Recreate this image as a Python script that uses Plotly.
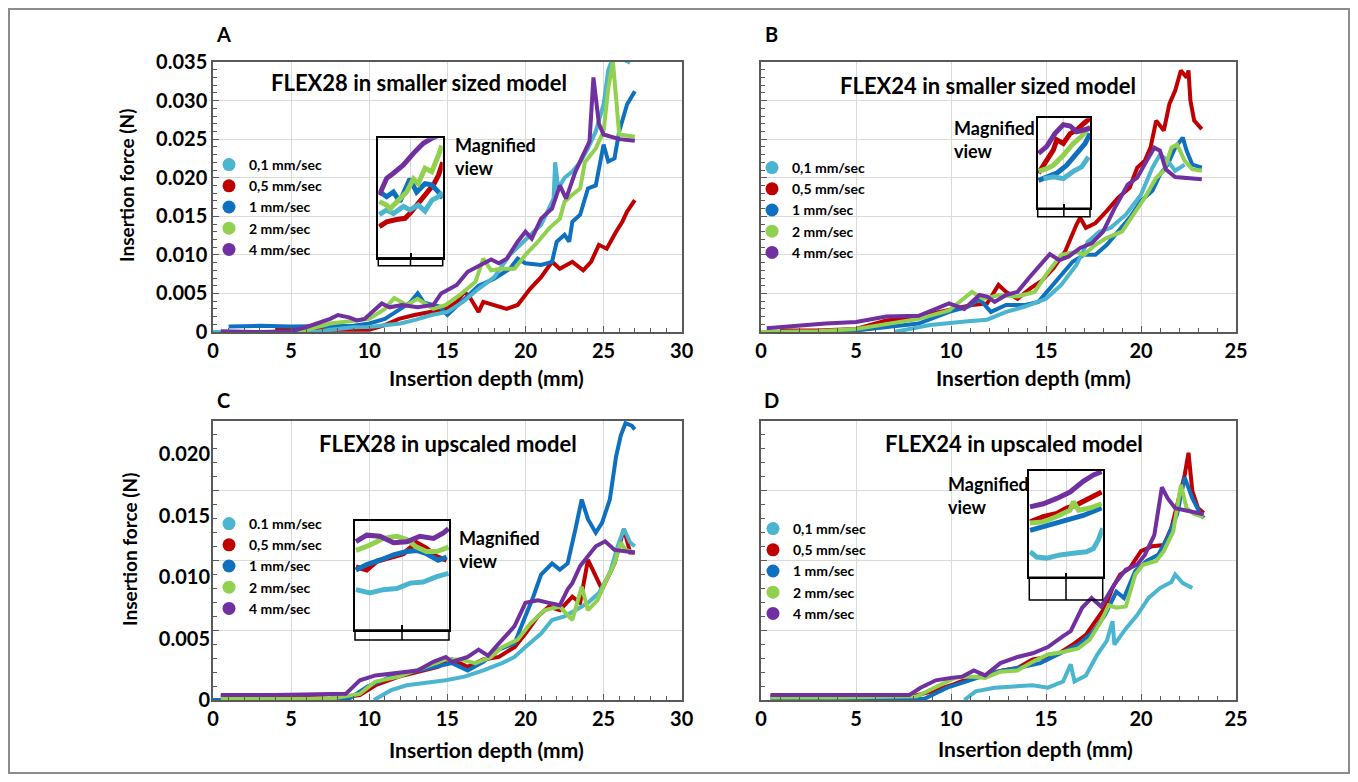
import plotly.graph_objects as go

# the page adds an 8 px body margin; the figure fills the rest of the 1358x782 window
PAGE_MARGIN = 8
W, H = 1358 - 2 * PAGE_MARGIN, 782 - 2 * PAGE_MARGIN
FONT = "Lato"

# ---------------- data ----------------
series_names = ["0,1 mm/sec", "0,5 mm/sec", "1 mm/sec", "2 mm/sec", "4 mm/sec"]
series_names_C = ["0.1 mm/sec", "0,5 mm/sec", "1 mm/sec", "2 mm/sec", "4 mm/sec"]
colors = ["#4BB5D0", "#C00000", "#1070C0", "#92D050", "#7030A0"]

panel_titles = ["FLEX28 in smaller sized model", "FLEX24 in smaller sized model",
                "FLEX28 in upscaled model", "FLEX24 in upscaled model"]
panel_letters = ["A", "B", "C", "D"]

A_yticks = [0, 0.005, 0.010, 0.015, 0.020, 0.025, 0.030, 0.035]
A_yticklabels = ["0", "0.005", "0.010", "0.015", "0.020", "0.025", "0.030", "0.035"]
C_yticks = [0, 0.005, 0.010, 0.015, 0.020]
C_yticklabels = ["0", "0.005", "0.010", "0.015", "0.020"]
AC_xticks = [0, 5, 10, 15, 20, 25, 30]
BD_xticks = [0, 5, 10, 15, 20, 25]

# Panel A
A_x_01 = [0, 3, 6.5, 7.5, 9, 10, 11, 12, 13, 14, 15, 16, 17, 18, 19, 20, 21, 21.8, 21.9, 22.1, 22.5, 23, 23.5, 24, 24.5, 25, 25.3, 25.6, 25.9, 26.4, 26.7]
A_y_01 = [0, 0, 0, 0.0003, 0.0006, 0.00065, 0.0009, 0.0011, 0.0016, 0.0022, 0.0026, 0.0039, 0.0056, 0.0071, 0.0100, 0.0120, 0.0139, 0.0173, 0.0220, 0.0186, 0.0200, 0.0208, 0.0220, 0.0238, 0.0260, 0.0295, 0.0340, 0.0355, 0.0375, 0.0352, 0.0349]
A_x_05 = [4, 6, 8, 10, 11, 11.9, 12.9, 13.9, 14.9, 15.6, 16.1, 16.5, 17, 17.3, 18, 18.8, 19.5, 20.3, 21, 21.7, 22.2, 23, 23.7, 24.2, 24.7, 25.2, 25.8, 26.2, 26.5, 27]
A_y_05 = [0.0003, 0.0003, 0.0003, 0.0003, 0.0009, 0.0017, 0.0022, 0.0026, 0.0030, 0.0039, 0.0052, 0.0043, 0.0026, 0.0039, 0.0035, 0.0030, 0.0035, 0.0056, 0.0071, 0.0091, 0.0082, 0.0091, 0.0080, 0.0091, 0.0113, 0.0108, 0.0130, 0.0143, 0.0156, 0.0171]
A_x_1 = [1.0, 3, 5, 7, 9, 10, 11, 12, 12.6, 13.1, 13.5, 14.5, 15, 16, 17, 18, 19, 19.5, 20, 21, 21.7, 22, 22.5, 22.8, 23, 23.5, 24, 24.5, 25, 25.3, 25.7, 26, 26.5, 27]
A_y_1 = [0.0007, 0.0008, 0.0007, 0.0007, 0.0008, 0.0011, 0.0017, 0.0030, 0.0038, 0.0050, 0.0038, 0.0033, 0.0022, 0.0041, 0.0060, 0.0069, 0.0082, 0.0095, 0.0089, 0.0087, 0.0091, 0.0117, 0.0126, 0.0117, 0.0143, 0.0152, 0.0186, 0.0190, 0.0243, 0.0221, 0.0225, 0.0260, 0.0295, 0.0312]
A_x_2 = [5.5, 7.5, 10, 11, 11.6, 12.4, 13.1, 14.1, 14.9, 15.8, 16.8, 17.3, 17.8, 18.5, 19.3, 20, 20.8, 21.5, 22.2, 22.5, 23, 23.5, 23.8, 24.5, 25, 25.3, 25.6, 25.8, 26, 27]
A_y_2 = [0, 0.0011, 0.0017, 0.0030, 0.0044, 0.0035, 0.0043, 0.0030, 0.0035, 0.0048, 0.0065, 0.0095, 0.0080, 0.0082, 0.0082, 0.0100, 0.0117, 0.0134, 0.0147, 0.0169, 0.0178, 0.0186, 0.0220, 0.0238, 0.0260, 0.0316, 0.0350, 0.0300, 0.0256, 0.0253]
A_x_4 = [0.5, 3, 5, 6, 7.5, 8, 8.7, 9.2, 9.7, 10.8, 11.3, 12.1, 13.1, 14.1, 14.6, 15.6, 16.3, 17.3, 17.8, 18.3, 18.8, 19.5, 20, 20.4, 21, 21.7, 22.2, 22.6, 23.2, 23.7, 24.1, 24.35, 24.5, 24.7, 25.0, 26, 27]
A_y_4 = [0.0001, 0.0, 0.0001, 0.00065, 0.0017, 0.0022, 0.0019, 0.0015, 0.0017, 0.0037, 0.0032, 0.0035, 0.0032, 0.0035, 0.0050, 0.0061, 0.0078, 0.0089, 0.0094, 0.0089, 0.0095, 0.0117, 0.0130, 0.0121, 0.0147, 0.0160, 0.0190, 0.0173, 0.0208, 0.0230, 0.0247, 0.0330, 0.0300, 0.0270, 0.0256, 0.0250, 0.0248]

# Panel B
B_x_01 = [7, 8.9, 10.9, 11.9, 12.9, 13.9, 15, 15.8, 16.6, 17.2, 17.8, 18.4, 19.2, 20, 20.6, 21, 21.4, 21.8, 22.3]
B_y_01 = [0, 0.0009, 0.0014, 0.0016, 0.0026, 0.0033, 0.0043, 0.0061, 0.0087, 0.0117, 0.0130, 0.0135, 0.0152, 0.0178, 0.0213, 0.0230, 0.0222, 0.0209, 0.0217]
B_x_05 = [1, 3, 5, 6.6, 8.3, 9.9, 11.1, 11.9, 12.5, 12.9, 13.5, 14.2, 14.8, 15.4, 16, 16.6, 16.8, 17.1, 17.6, 18.2, 18.8, 19.4, 19.8, 20.2, 20.5, 20.8, 21.2, 21.5, 21.8, 22.1, 22.4, 22.5, 22.6, 22.8, 23.2]
B_y_05 = [0.0002, 0.0002, 0.0004, 0.0015, 0.0020, 0.0028, 0.0035, 0.0037, 0.0061, 0.0052, 0.0043, 0.0057, 0.0067, 0.0083, 0.0104, 0.0139, 0.0148, 0.0135, 0.0141, 0.0157, 0.0174, 0.0187, 0.0213, 0.0222, 0.0239, 0.0274, 0.0261, 0.0296, 0.0313, 0.0339, 0.0330, 0.0339, 0.0300, 0.0274, 0.0263]
B_x_1 = [0, 3, 5, 8.3, 9.9, 10.9, 11.5, 12.1, 12.9, 13.9, 14.6, 15.2, 15.8, 16.4, 17, 17.6, 18.2, 18.8, 19.4, 20, 20.6, 21, 21.4, 21.8, 22.2, 22.4, 22.7, 23.2]
B_y_1 = [0, 0, 0.0002, 0.0011, 0.0026, 0.0033, 0.0043, 0.0026, 0.0035, 0.0035, 0.0039, 0.0057, 0.0074, 0.0091, 0.0100, 0.0100, 0.0113, 0.0130, 0.0148, 0.0170, 0.0183, 0.0204, 0.0217, 0.0239, 0.0252, 0.0235, 0.0217, 0.0213]
B_x_2 = [0, 3, 5, 8.3, 9.9, 11.1, 11.7, 12.5, 13.5, 14.4, 15, 15.8, 16.6, 17, 17.6, 18.2, 19, 19.6, 20.2, 20.8, 21.2, 21.6, 21.9, 22.3, 22.7, 23.2]
B_y_2 = [0, 0.0001, 0.0004, 0.0017, 0.0028, 0.0052, 0.0043, 0.0048, 0.0046, 0.0052, 0.0074, 0.0100, 0.0104, 0.0100, 0.0113, 0.0122, 0.0130, 0.0152, 0.0174, 0.0200, 0.0209, 0.0239, 0.0243, 0.0222, 0.0211, 0.0209]
B_x_4 = [0.3, 1.8, 3.4, 5, 6.6, 8.3, 9.9, 10.7, 11.5, 11.9, 12.3, 12.9, 13.5, 14.1, 14.8, 15.2, 15.7, 16.2, 16.8, 17.4, 18, 18.6, 19.3, 19.8, 20.3, 20.7, 21, 21.3, 21.8, 23.2]
B_y_4 = [0.0005, 0.0008, 0.0011, 0.0013, 0.0020, 0.0021, 0.0037, 0.0030, 0.0048, 0.0046, 0.0039, 0.0048, 0.0052, 0.0070, 0.0091, 0.0101, 0.0093, 0.0098, 0.0109, 0.0115, 0.0130, 0.0160, 0.0191, 0.0200, 0.0222, 0.0239, 0.0235, 0.0211, 0.0201, 0.0198]

# Panel C
C_x_01 = [10.3, 11.4, 12.4, 13.6, 14.9, 16.1, 17.3, 18.5, 19.3, 20, 21, 21.7, 22.5, 23.2, 24, 24.7, 25.4, 25.9, 26.3, 26.7, 27]
C_y_01 = [0, 0.0008, 0.0012, 0.0014, 0.0016, 0.0019, 0.0024, 0.0030, 0.0035, 0.0043, 0.0054, 0.0065, 0.0068, 0.0073, 0.0079, 0.0087, 0.0103, 0.0125, 0.0139, 0.0128, 0.0125]
C_x_05 = [0.5, 3, 5, 7.5, 9.4, 10.4, 11.9, 13.1, 14.4, 15.3, 16.3, 17.3, 18.3, 19.3, 20, 20.8, 21.5, 22.2, 23, 23.5, 24, 24.3, 24.9, 25.7, 26.3, 26.7, 27]
C_y_05 = [0.0003, 0.0003, 0.0002, 0.0001, 0.0004, 0.0012, 0.0019, 0.0023, 0.0027, 0.0033, 0.0027, 0.0033, 0.0035, 0.0043, 0.0054, 0.0068, 0.0076, 0.0073, 0.0084, 0.0079, 0.0114, 0.0106, 0.0090, 0.0111, 0.0139, 0.0120, 0.0120]
C_x_1 = [0, 4, 8, 8.7, 9.9, 11.4, 12.9, 14.4, 15.3, 16.3, 17.3, 18.3, 19.3, 19.8, 20.5, 21, 21.7, 22.2, 22.7, 23.2, 23.6, 24, 24.5, 24.9, 25.4, 25.8, 26.1, 26.4, 26.8, 27]
C_y_1 = [0, 0, 0, 0.0001, 0.0011, 0.0019, 0.0023, 0.0027, 0.0030, 0.0024, 0.0031, 0.0041, 0.0046, 0.0062, 0.0084, 0.0102, 0.0111, 0.0106, 0.0111, 0.0139, 0.0163, 0.0147, 0.0136, 0.0144, 0.0163, 0.0198, 0.0215, 0.0225, 0.0223, 0.0220]
C_x_2 = [0.5, 4, 7.5, 9.4, 10.4, 11.9, 13.6, 14.9, 15.8, 16.8, 17.8, 18.5, 19.5, 20.3, 21.2, 22.2, 23, 23.6, 24, 24.6, 25.2, 25.7, 26.1, 26.4, 27]
C_y_2 = [0.0001, 0.0001, 0.0001, 0.0005, 0.0015, 0.0019, 0.0027, 0.0033, 0.0033, 0.0030, 0.0035, 0.0043, 0.0049, 0.0062, 0.0073, 0.0076, 0.0065, 0.0092, 0.0073, 0.0081, 0.0098, 0.0111, 0.0128, 0.0122, 0.0120]
C_x_4 = [0.5, 4, 8.5, 9.4, 10.4, 11.9, 13.1, 14.1, 14.9, 15.3, 16.3, 17, 17.6, 18.3, 19.3, 20, 20.8, 21.5, 22.2, 22.7, 23, 23.5, 24, 24.5, 25.1, 25.7, 27]
C_y_4 = [0.0004, 0.0004, 0.0005, 0.0016, 0.0020, 0.0022, 0.0024, 0.0031, 0.0035, 0.0031, 0.0035, 0.0041, 0.0036, 0.0046, 0.0060, 0.0079, 0.0081, 0.0079, 0.0077, 0.0090, 0.0095, 0.0109, 0.0117, 0.0125, 0.0129, 0.0122, 0.0120]

# Panel D
D_x_01 = [10.7, 11.3, 12.3, 13.3, 14.3, 15.1, 15.9, 16.3, 16.5, 17.1, 17.7, 18.2, 18.5, 18.6, 19.2, 19.8, 20.4, 21, 21.6, 21.8, 22.2, 22.7]
D_y_01 = [0, 0.0007, 0.0010, 0.0011, 0.0012, 0.0010, 0.0015, 0.0029, 0.0015, 0.0020, 0.0037, 0.0048, 0.0064, 0.0045, 0.0058, 0.0069, 0.0083, 0.0091, 0.0096, 0.0102, 0.0095, 0.0091]
D_x_05 = [0.5, 4, 8, 9, 10, 11, 11.9, 12.7, 13.5, 14.3, 15.1, 15.7, 16.5, 17.1, 17.7, 18.1, 18.5, 18.9, 19.4, 20, 20.6, 21.2, 21.6, 22, 22.3, 22.5, 22.7, 23, 23.3]
D_y_05 = [0.0003, 0.0003, 0.0003, 0.0007, 0.0012, 0.0018, 0.0020, 0.0024, 0.0026, 0.0033, 0.0035, 0.0038, 0.0046, 0.0053, 0.0067, 0.0075, 0.0091, 0.0102, 0.0107, 0.0121, 0.0125, 0.0126, 0.0140, 0.0164, 0.0183, 0.0201, 0.0170, 0.0156, 0.0152]
D_x_1 = [0.5, 4, 8.6, 9.8, 11, 12.4, 13.5, 14.7, 15.9, 16.7, 17.5, 18.1, 18.7, 19.1, 19.7, 20.3, 20.9, 21.4, 21.9, 22.3, 22.7, 23.1, 23.3]
D_y_1 = [0.0001, 0.0001, 0.0001, 0.0010, 0.0016, 0.0023, 0.0026, 0.0030, 0.0039, 0.0045, 0.0056, 0.0069, 0.0088, 0.0083, 0.0105, 0.0113, 0.0118, 0.0132, 0.0151, 0.0181, 0.0164, 0.0152, 0.0148]
D_x_2 = [0.5, 4, 8.2, 9.4, 10.2, 11, 11.8, 12.6, 13.5, 14.3, 15.1, 15.9, 16.7, 17.3, 17.9, 18.3, 18.7, 19.2, 19.7, 20.1, 20.8, 21.2, 21.7, 22.1, 22.4, 22.8, 23.3]
D_y_2 = [0.0002, 0.0002, 0.0003, 0.0012, 0.0018, 0.0019, 0.0018, 0.0023, 0.0024, 0.0031, 0.0037, 0.0039, 0.0042, 0.0049, 0.0064, 0.0077, 0.0075, 0.0076, 0.0102, 0.0110, 0.0113, 0.0121, 0.0137, 0.0175, 0.0156, 0.0151, 0.0149]
D_x_4 = [0.5, 4, 7.8, 8.4, 9.2, 10, 10.6, 11.2, 11.8, 12.6, 13.5, 14.3, 15.1, 15.9, 16.3, 16.9, 17.4, 17.9, 18.6, 19.2, 19.8, 20.2, 20.7, 21.1, 21.4, 21.8, 22.4, 23.3]
D_y_4 = [0.0004, 0.0004, 0.0004, 0.0010, 0.0016, 0.0018, 0.0019, 0.0024, 0.0020, 0.0030, 0.0035, 0.0038, 0.0043, 0.0052, 0.0056, 0.0075, 0.0083, 0.0076, 0.0094, 0.0106, 0.0110, 0.0118, 0.0134, 0.0173, 0.0164, 0.0156, 0.0154, 0.0151]

# Insets (magnified views, relative units)
IA_x_01 = [0.03, 0.26, 0.47, 0.78, 0.98, 1.24, 1.45, 1.66, 1.87, 2.0]
IA_y_01 = [0.36, 0.40, 0.37, 0.43, 0.40, 0.44, 0.39, 0.48, 0.51, 0.55]
IA_x_05 = [0.03, 0.26, 0.57, 0.83, 0.98, 1.19, 1.35, 1.50, 1.71, 1.87, 2.0]
IA_y_05 = [0.26, 0.30, 0.32, 0.33, 0.37, 0.44, 0.48, 0.53, 0.61, 0.69, 0.80]
IA_x_1 = [0.05, 0.26, 0.47, 0.67, 0.98, 1.19, 1.45, 1.66, 1.87, 2.0]
IA_y_1 = [0.55, 0.51, 0.55, 0.47, 0.66, 0.55, 0.62, 0.61, 0.55, 0.50]
IA_x_2 = [0.03, 0.26, 0.36, 0.67, 0.88, 1.09, 1.24, 1.45, 1.66, 1.87, 1.97]
IA_y_2 = [0.47, 0.44, 0.41, 0.50, 0.55, 0.66, 0.62, 0.75, 0.72, 0.86, 0.94]
IA_x_4 = [0.03, 0.26, 0.47, 0.78, 1.09, 1.40, 1.66, 2.0]
IA_y_4 = [0.525, 0.665, 0.707, 0.777, 0.874, 0.958, 1.0, 1.04]

IB_x_01 = [0.22, 0.6, 0.98, 1.36, 1.68, 1.94]
IB_y_01 = [0.33, 0.35, 0.33, 0.41, 0.46, 0.57]
IB_x_05 = [0.03, 0.34, 0.6, 0.73, 0.98, 1.24, 1.49, 1.75, 2.0]
IB_y_05 = [0.39, 0.54, 0.65, 0.76, 0.72, 0.83, 0.87, 0.94, 1.0]
IB_x_1 = [0.03, 0.34, 0.73, 1.11, 1.49, 1.81, 2.0]
IB_y_1 = [0.31, 0.35, 0.39, 0.48, 0.61, 0.72, 0.83]
IB_x_2 = [0.03, 0.34, 0.6, 0.98, 1.36, 1.68, 2.0]
IB_y_2 = [0.41, 0.44, 0.48, 0.59, 0.72, 0.80, 0.91]
IB_x_4 = [0.03, 0.34, 0.66, 0.98, 1.24, 1.49, 1.75, 2.0]
IB_y_4 = [0.61, 0.685, 0.83, 0.93, 0.915, 0.85, 0.87, 0.89]

IC_x_01 = [0.02, 0.32, 0.6, 0.89, 1.17, 1.45, 1.74, 1.99]
IC_y_01 = [0.37, 0.34, 0.37, 0.38, 0.43, 0.44, 0.49, 0.52]
IC_x_05 = [0.02, 0.25, 0.46, 0.74, 1.03, 1.31, 1.52, 1.74, 1.95]
IC_y_05 = [0.58, 0.55, 0.63, 0.66, 0.70, 0.80, 0.75, 0.67, 0.64]
IC_x_1 = [0.02, 0.25, 0.53, 0.82, 1.1, 1.31, 1.52, 1.77, 1.95]
IC_y_1 = [0.55, 0.60, 0.64, 0.69, 0.72, 0.73, 0.70, 0.64, 0.67]
IC_x_2 = [0.02, 0.32, 0.6, 0.89, 1.1, 1.31, 1.52, 1.74, 1.99]
IC_y_2 = [0.73, 0.78, 0.84, 0.86, 0.83, 0.76, 0.72, 0.72, 0.76]
IC_x_4 = [0.02, 0.25, 0.53, 0.82, 1.1, 1.38, 1.67, 1.88, 1.99]
IC_y_4 = [0.81, 0.87, 0.86, 0.80, 0.81, 0.86, 0.84, 0.89, 0.93]

ID_x_01 = [0.02, 0.2, 0.47, 0.84, 1.2, 1.56, 1.75, 1.88, 2.0]
ID_y_01 = [0.24, 0.19, 0.18, 0.21, 0.225, 0.24, 0.27, 0.35, 0.46]
ID_x_05 = [0.02, 0.38, 0.75, 1.02, 1.29, 1.56, 1.79, 1.97]
ID_y_05 = [0.52, 0.57, 0.60, 0.65, 0.68, 0.73, 0.76, 0.80]
ID_x_1 = [0.02, 0.38, 0.75, 1.11, 1.47, 1.97]
ID_y_1 = [0.44, 0.475, 0.51, 0.54, 0.58, 0.65]
ID_x_2 = [0.02, 0.38, 0.75, 1.11, 1.2, 1.34, 1.65, 1.97]
ID_y_2 = [0.51, 0.52, 0.57, 0.63, 0.71, 0.63, 0.65, 0.69]
ID_x_4 = [0.02, 0.38, 0.75, 1.11, 1.47, 1.75, 1.97]
ID_y_4 = [0.66, 0.69, 0.74, 0.80, 0.90, 0.96, 0.99]

# ---------------- layout helpers (window pixel -> paper) ----------------
def px(x):
    return (x - PAGE_MARGIN) / W

def py(y):
    return 1 - (y - PAGE_MARGIN) / H

# plot areas in window pixels: (left, right, top, bottom)
areas = {
    "A": (213, 681.7, 62, 332),
    "B": (761, 1236, 62, 332),
    "C": (213, 681.7, 421, 700),
    "D": (761, 1236, 421, 700),
}
# inset areas: (left, right, top, axis line, box bottom)
insets = {
    "A": (378.3, 442.7, 138.3, 257.7, 265.7),
    "B": (1037.7, 1090, 118.3, 208.3, 216.7),
    "C": (355, 449, 521, 630, 640),
    "D": (1029.3, 1102.7, 470.7, 577.3, 600),
}

AXC = "#595959"
GRID = "#D9D9D9"
tickfont = dict(family=FONT, size=20, color="black", weight="bold")

fig = go.Figure()

panel_series = {
    "A": [(A_x_01, A_y_01), (A_x_05, A_y_05), (A_x_1, A_y_1), (A_x_2, A_y_2), (A_x_4, A_y_4)],
    "B": [(B_x_01, B_y_01), (B_x_05, B_y_05), (B_x_1, B_y_1), (B_x_2, B_y_2), (B_x_4, B_y_4)],
    "C": [(C_x_01, C_y_01), (C_x_05, C_y_05), (C_x_1, C_y_1), (C_x_2, C_y_2), (C_x_4, C_y_4)],
    "D": [(D_x_01, D_y_01), (D_x_05, D_y_05), (D_x_1, D_y_1), (D_x_2, D_y_2), (D_x_4, D_y_4)],
}
inset_series = {
    "A": [(IA_x_01, IA_y_01), (IA_x_05, IA_y_05), (IA_x_1, IA_y_1), (IA_x_2, IA_y_2), (IA_x_4, IA_y_4)],
    "B": [(IB_x_01, IB_y_01), (IB_x_05, IB_y_05), (IB_x_1, IB_y_1), (IB_x_2, IB_y_2), (IB_x_4, IB_y_4)],
    "C": [(IC_x_01, IC_y_01), (IC_x_05, IC_y_05), (IC_x_1, IC_y_1), (IC_x_2, IC_y_2), (IC_x_4, IC_y_4)],
    "D": [(ID_x_01, ID_y_01), (ID_x_05, ID_y_05), (ID_x_1, ID_y_1), (ID_x_2, ID_y_2), (ID_x_4, ID_y_4)],
}
draw_order = [1, 2, 0, 3, 4]

panel_axes = {"A": ("x", "y"), "B": ("x2", "y2"), "C": ("x3", "y3"), "D": ("x4", "y4")}
inset_axes = {"A": ("x5", "y5"), "B": ("x6", "y6"), "C": ("x7", "y7"), "D": ("x8", "y8")}
legend_ids = {"A": "legend", "B": "legend2", "C": "legend3", "D": "legend4"}

for p in "ABCD":
    xa, ya = panel_axes[p]
    for i in draw_order:
        xs, ys = panel_series[p][i]
        fig.add_trace(go.Scatter(x=xs, y=ys, mode="lines", xaxis=xa, yaxis=ya,
                                 line=dict(color=colors[i], width=4),
                                 showlegend=False, hoverinfo="skip"))
    ixa, iya = inset_axes[p]
    for i in draw_order:
        xs, ys = inset_series[p][i]
        fig.add_trace(go.Scatter(x=xs, y=ys, mode="lines", xaxis=ixa, yaxis=iya,
                                 line=dict(color=colors[i], width=5),
                                 showlegend=False, hoverinfo="skip"))
    names = series_names_C if p == "C" else series_names
    for i in range(5):
        fig.add_trace(go.Scatter(x=[None], y=[None], mode="markers", xaxis=xa, yaxis=ya,
                                 marker=dict(color=colors[i], size=13),
                                 name=names[i], legend=legend_ids[p], showlegend=True))

# invisible traces so the grid axes of C and D are drawn
fig.add_trace(go.Scatter(x=[None], y=[None], xaxis="x3", yaxis="y9", showlegend=False))
fig.add_trace(go.Scatter(x=[None], y=[None], xaxis="x4", yaxis="y10", showlegend=False))

minor_x = dict(tickmode="linear", tick0=0, dtick=1, ticks="inside", ticklen=4, tickcolor=AXC, tickwidth=1)
minor_y = dict(tickmode="linear", tick0=0, dtick=0.001, ticks="inside", ticklen=4, tickcolor=AXC, tickwidth=1)

def xaxis_main(p, rng, tickv, anchor):
    l, r, t, b = areas[p]
    return dict(domain=[px(l), px(r)], anchor=anchor, range=rng, tickmode="array",
                tickvals=tickv, ticktext=[str(v) for v in tickv], automargin=False,
                showline=True, linecolor=AXC, linewidth=1.5, mirror=True,
                showgrid=True, gridcolor=GRID, gridwidth=1, zeroline=False,
                ticks="inside", ticklen=6, tickcolor=AXC, tickwidth=1, minor=minor_x,
                tickfont=tickfont, ticklabelstandoff=0)

def yaxis_grid(p, rng, anchor, show_labels, tickv=None, tickt=None):
    l, r, t, b = areas[p]
    d = dict(domain=[py(b), py(t)], anchor=anchor, range=rng, automargin=False,
             showline=True, linecolor=AXC, linewidth=1.5, mirror=True,
             showgrid=True, gridcolor=GRID, gridwidth=1, zeroline=False,
             ticks="inside", ticklen=6, tickcolor=AXC, tickwidth=1, minor=minor_y,
             tickfont=tickfont, ticklabelstandoff=0, showticklabels=show_labels)
    if tickv is not None:
        d.update(tickmode="array", tickvals=tickv, ticktext=tickt)
    else:
        d.update(tickmode="linear", tick0=0, dtick=0.005)
    return d

C_top = (700 - 421) / 61.5 * 0.005     # tick-label scale of panels C/D
C_grid_top = (700 - 421) / 70.0 * 0.005  # gridline scale of panels C/D

layout_axes = dict(
    xaxis=xaxis_main("A", [0, 30], AC_xticks, "y"),
    yaxis=yaxis_grid("A", [0, 0.035], "x", True, A_yticks, A_yticklabels),
    xaxis2=xaxis_main("B", [0, 25], BD_xticks, "y2"),
    yaxis2=yaxis_grid("B", [0, 0.035], "x2", False),
    xaxis3=xaxis_main("C", [0, 30], AC_xticks, "y3"),
    yaxis3=dict(domain=[py(700), py(421)], anchor="x3", range=[0, C_top], tickmode="array",
                tickvals=C_yticks, ticktext=C_yticklabels, showgrid=False, showline=False,
                zeroline=False, ticks="", tickfont=tickfont, ticklabelstandoff=2,
                automargin=False),
    yaxis9=dict(yaxis_grid("C", [0, C_grid_top], "x3", False), overlaying="y3", side="left"),
    xaxis4=xaxis_main("D", [0, 25], BD_xticks, "y4"),
    yaxis4=dict(domain=[py(700), py(421)], anchor="x4", range=[0, C_top], showgrid=False,
                showline=False, zeroline=False, ticks="", showticklabels=False,
                automargin=False),
    yaxis10=dict(yaxis_grid("D", [0, C_grid_top], "x4", False), overlaying="y4", side="left"),
)

shapes = []
for p, (ixa, iya), n in zip("ABCD", inset_axes.values(), [5, 6, 7, 8]):
    l, r, t, ax_line, bb = insets[p]
    layout_axes["xaxis%d" % n] = dict(domain=[px(l), px(r)], anchor="y%d" % n, range=[0, 2],
                                      tickmode="array", tickvals=[0, 1, 2], ticks="inside",
                                      ticklen=5, tickcolor="black", tickwidth=1.5,
                                      showticklabels=False, showgrid=True, gridcolor=GRID,
                                      showline=True, mirror=True, linecolor="black",
                                      linewidth=1.5, zeroline=False, automargin=False)
    layout_axes["yaxis%d" % n] = dict(domain=[py(ax_line), py(t)], anchor="x%d" % n,
                                      range=[0, 1], showticklabels=False, ticks="",
                                      showgrid=False, showline=True, mirror=True,
                                      linecolor="black", linewidth=1.5, zeroline=False,
                                      automargin=False)
    shapes.append(dict(type="rect", xref="paper", yref="paper", x0=px(l), x1=px(r),
                       y0=py(bb), y1=py(ax_line), line=dict(color="black", width=1.5)))
    shapes.append(dict(type="line", xref=ixa, yref="paper", x0=1, x1=1,
                       y0=py(bb), y1=py(ax_line), line=dict(color="black", width=1.5)))

# legend positions: (symbol centre x, first row centre y) in window pixels
legend_pos = {"A": (227, 164), "B": (770, 167), "C": (227, 523), "D": (771, 528)}
legends = {}
for p, lid in legend_ids.items():
    cx, cy = legend_pos[p]
    legends[lid] = dict(x=px(cx - 18), y=py(cy - 15), xanchor="left", yanchor="top",
                        bgcolor="rgba(0,0,0,0)", borderwidth=0, tracegroupgap=0,
                        font=dict(family=FONT, size=14, color="black", weight="bold"),
                        itemclick=False, itemdoubleclick=False)
    l = areas[p][0]
    shapes.append(dict(type="rect", xref="paper", yref="paper", layer="between",
                       x0=px(l + 1.5), x1=px(cx + 97), y0=py(cy + 95), y1=py(cy - 11),
                       fillcolor="white", line=dict(width=0)))

# figure border
shapes.append(dict(type="rect", xref="paper", yref="paper", x0=px(9), x1=px(1349),
                   y0=py(773), y1=py(9), line=dict(color="#8C8C8C", width=2)))

annotations = []
title_pos = {"A": (418.7, 82), "B": (988, 86), "C": (447.5, 444), "D": (1013.7, 443)}
letter_pos = {"A": (223, 34), "B": (771, 34), "C": (223, 400), "D": (771, 400)}
xtitle_pos = {"A": (486, 377), "B": (1033, 377), "C": (486.5, 749), "D": (1035, 748)}
ytitle_pos = {"A": (127, 186), "C": (129, 550)}
magn_pos = {"A": (453, 156.5), "B": (952, 140), "C": (457, 549), "D": (946, 495)}

for k, p in enumerate("ABCD"):
    x, y = title_pos[p]
    annotations.append(dict(text=panel_titles[k], x=px(x), y=py(y), xref="paper", yref="paper",
                            showarrow=False, xanchor="center", yanchor="middle",
                            font=dict(family=FONT, size=22, color="black", weight="bold")))
    x, y = letter_pos[p]
    annotations.append(dict(text=panel_letters[k], x=px(x), y=py(y), xref="paper", yref="paper",
                            showarrow=False, xanchor="center", yanchor="middle",
                            font=dict(family=FONT, size=20, color="black", weight="bold")))
    x, y = xtitle_pos[p]
    annotations.append(dict(text="Insertion depth (mm)", x=px(x), y=py(y), xref="paper",
                            yref="paper", showarrow=False, xanchor="center", yanchor="middle",
                            font=dict(family=FONT, size=21, color="black", weight="bold")))
    x, y = magn_pos[p]
    annotations.append(dict(text="Magnified<br>view", x=px(x), y=py(y), xref="paper",
                            yref="paper", showarrow=False, xanchor="left", yanchor="middle",
                            align="left",
                            font=dict(family=FONT, size=18, color="black", weight="bold")))
for p, (x, y) in ytitle_pos.items():
    annotations.append(dict(text="Insertion force (N)", x=px(x), y=py(y), xref="paper",
                            yref="paper", showarrow=False, textangle=-90,
                            xanchor="center", yanchor="middle",
                            font=dict(family=FONT, size=19, color="black", weight="bold")))

fig.update_layout(width=W, height=H,
                  margin=dict(l=0, r=0, t=0, b=0, autoexpand=False),
                  paper_bgcolor="white", plot_bgcolor="rgba(0,0,0,0)",
                  shapes=shapes, annotations=annotations, **layout_axes, **legends)

fig.write_html("out.html")
